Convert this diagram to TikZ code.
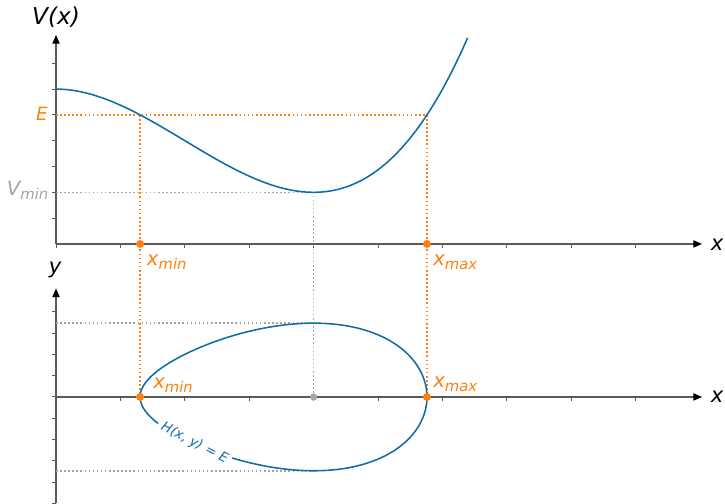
\documentclass[tikz,border=0pt]{standalone}
\usepackage{fontspec}
\setmainfont{DejaVu Sans}
\usepackage{tikz}
\usetikzlibrary{arrows.meta}

\definecolor{curveblue}{RGB}{14,108,168}
\definecolor{turnorange}{RGB}{255,127,14}
\definecolor{mingray}{RGB}{165,165,165}
\definecolor{axisgray}{RGB}{90,90,90}

\newcommand{\lowsub}[1]{\raisebox{-2.8pt}{\fontsize{10.5}{12}\selectfont #1}}

\begin{document}
\begin{tikzpicture}[
  x=0.025cm, y=0.025cm,
  declare function={Vp(\x)=\x^3/8-0.75*\x^2+6;},
  axis/.style={draw=axisgray, line width=0.95pt, -{Triangle[length=2.2mm, width=1.8mm, black]}},
  tick/.style={draw=axisgray, line width=0.7pt},
  curve/.style={draw=curveblue, line width=1.1pt},
  orangeline/.style={draw=turnorange, line width=1.1pt, dash pattern=on 1.2pt off 1.7pt},
  grayline/.style={draw=mingray, line width=1.05pt, dash pattern=on 1.1pt off 1.8pt},
  turnpt/.style={circle, fill=#1, inner sep=0pt, minimum size=2mm},
  axlabel/.style={font=\fontsize{15}{17}\selectfont\itshape, inner sep=0pt, anchor=base},
  ptlabel/.style={font=\fontsize{14}{16}\selectfont\itshape, text=turnorange, inner sep=0pt, anchor=base west}
]
  \useasboundingbox (0,0) rectangle (725,504);

  \begin{scope}[shift={(1.4cm,6.5cm)}, x=1.61cm, y=0.645cm]
    \draw[axis] (0,0) -- (10.03,0);
    \draw[axis] (0,0) -- (0,8.1);
    \foreach \i in {0,...,9} \draw[tick] (\i,0) -- ++(0,-3pt);
    \foreach \j in {1,...,7} \draw[tick] (0,\j) -- ++(-3pt,0);
    \coordinate (E0) at (0,5);
    \coordinate (Emin) at (1.3054,5);
    \coordinate (Emax) at (5.7588,5);
    \coordinate (V0) at (0,2);
    \coordinate (Vbot) at (4,2);
    \coordinate (xminTop) at (1.3054,0);
    \coordinate (xmaxTop) at (5.7588,0);
  \end{scope}

  \begin{scope}[shift={(1.4cm,2.675cm)}, x=1.61cm, y=0.5325cm]
    \draw[axis] (0,0) -- (10.03,0);
    \draw[axis] (0,-5) -- (0,5.1);
    \foreach \i in {1,...,9} \draw[tick] (\i,0) -- ++(0,-3pt);
    \foreach \j in {-5,...,4} \draw[tick] (0,\j) -- ++(-3pt,0);
    \coordinate (y0up) at (0,3.4641);
    \coordinate (y0dn) at (0,-3.4641);
    \coordinate (ytop) at (4,3.4641);
    \coordinate (ybot) at (4,-3.4641);
    \coordinate (xminBot) at (1.3054,0);
    \coordinate (xmaxBot) at (5.7588,0);
    \coordinate (xc) at (4,0);
  \end{scope}

  \draw[orangeline] (E0) -- (Emax);
  \draw[orangeline] (Emin) -- (xminBot);
  \draw[orangeline] (Emax) -- (xmaxBot);
  \draw[grayline] (V0) -- (Vbot) -- (xc);
  \draw[grayline] (y0up) -- (ytop);
  \draw[grayline] (y0dn) -- (ybot);

  \begin{scope}[shift={(1.4cm,6.5cm)}, x=1.61cm, y=0.645cm]
    \draw[curve] plot[domain=0:6.39, samples=120, smooth] (\x, {Vp(\x)});
  \end{scope}

  \begin{scope}[shift={(1.4cm,2.675cm)}, x=1.61cm, y=0.5325cm]
    \draw[curve] plot[domain=-29:291, samples=161, smooth, variable=\t]
      ({3.5321-2.2267*cos(\t)},
       {(sin(\t)>=0 ? 1 : -1)*2*sqrt(max(0,5-Vp(3.5321-2.2267*cos(\t))))});
    \node[text=curveblue, font=\fontsize{9.5}{11}\selectfont\itshape, rotate=-27, inner sep=0pt] (hlabel) at (2.15,-2.17) {H(x, y) = E};
  \end{scope}

  \node[turnpt=turnorange] (dminTop) at (xminTop) {};
  \node[turnpt=turnorange] (dmaxTop) at (xmaxTop) {};
  \node[turnpt=turnorange] (dminBot) at (xminBot) {};
  \node[turnpt=turnorange] (dmaxBot) at (xmaxBot) {};
  \node[turnpt=mingray, minimum size=1.8mm] (dcenter) at (xc) {};

  \node[axlabel, font=\fontsize{16.5}{18}\selectfont\itshape] (vlabel) at (56,479) {V(x)};
  \node[axlabel] (ylabel) at (55,230) {y};
  \node[axlabel] (xlabelTop) at (717,253) {x};
  \node[axlabel] (xlabelBot) at (717,101) {x};
  \node[axlabel, text=turnorange, font=\fontsize{13}{15}\selectfont\itshape] (elabel) at (42,383) {E};
  \node[axlabel, anchor=base east, text=mingray, font=\fontsize{14}{16}\selectfont\itshape] (vminlabel) at (48.5,308) {V\lowsub{min}};
  \node[ptlabel] (xminlabelTop) at (146.7,238) {x\lowsub{min}};
  \node[ptlabel] (xmaxlabelTop) at (433,238) {x\lowsub{max}};
  \node[ptlabel] (xminlabelBot) at (153,115) {x\lowsub{min}};
  \node[ptlabel] (xmaxlabelBot) at (433,116) {x\lowsub{max}};
\end{tikzpicture}
\end{document}
